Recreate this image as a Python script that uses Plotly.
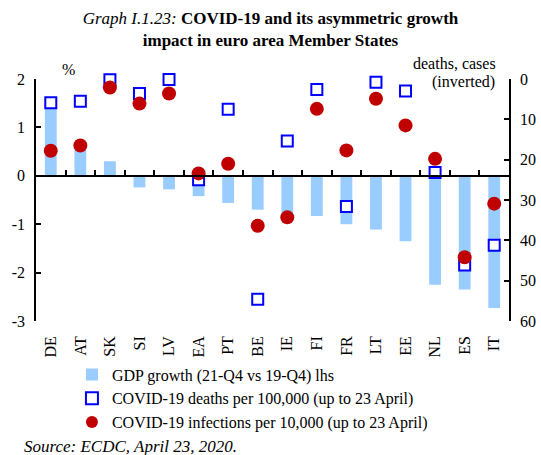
import plotly.graph_objects as go

countries = ["DE", "AT", "SK", "SI", "LV", "EA", "PT", "BE", "IE", "FI", "FR", "LT", "EE", "NL", "ES", "IT"]
gdp_growth = [1.45, 0.55, 0.30, -0.24, -0.28, -0.42, -0.56, -0.70, -0.82, -0.83, -1.00, -1.11, -1.35, -2.25, -2.35, -2.73]
deaths_per_100k = [5.9, 5.5, 0.2, 3.6, 0.1, 25.0, 7.5, 54.6, 15.4, 2.6, 31.6, 0.8, 3.0, 23.2, 46.1, 41.2]
infections_per_10k = [17.8, 16.5, 2.1, 6.1, 3.6, 23.4, 21.0, 36.4, 34.3, 7.4, 17.7, 4.9, 11.5, 19.8, 44.2, 30.9]
left_ticks = [-3, -2, -1, 0, 1, 2]
left_tick_labels = ["-3", "-2", "-1", "0", "1", "2"]
right_ticks = [0, 10, 20, 30, 40, 50, 60]

FONT = "Liberation Serif, Times New Roman, serif"

fig = go.Figure()
fig.add_trace(go.Bar(
    x=countries, y=gdp_growth, name="GDP growth (21-Q4 vs 19-Q4) lhs",
    marker=dict(color="#99CCFF", line=dict(width=0)), width=0.4, yaxis="y",
))
fig.add_trace(go.Scatter(
    x=countries, y=deaths_per_100k, name="COVID-19 deaths per 100,000 (up to 23 April)",
    mode="markers", yaxis="y2", cliponaxis=False,
    marker=dict(symbol="square", size=11, color="white", line=dict(color="#0000FF", width=2)),
))
fig.add_trace(go.Scatter(
    x=countries, y=infections_per_10k, name="COVID-19 infections per 10,000 (up to 23 April)",
    mode="markers", yaxis="y2", cliponaxis=False,
    marker=dict(symbol="circle", size=14, color="#C00000", line=dict(width=0)),
))
# dummy trace to activate zero-line category axis
fig.add_trace(go.Scatter(x=countries, y=[None]*len(countries), xaxis="x2", yaxis="y",
                         showlegend=False, hoverinfo="skip", mode="markers"))

fig.update_layout(
    width=541, height=455,
    margin=dict(l=36, r=32, t=79, b=134, autoexpand=False),
    paper_bgcolor="white", plot_bgcolor="white",
    font=dict(family=FONT, size=16, color="black"),
    title=dict(
        text="<i>Graph I.1.23:</i> <b>COVID-19 and its asymmetric growth</b><br><b>impact in euro area Member States</b>",
        x=0.5, xanchor="center", y=0.947, yanchor="top",
        font=dict(family=FONT, size=17, color="black"),
    ),
    showlegend=True,
    legend=dict(
        x=0.076, y=-0.151, xanchor="left", yanchor="top",
        font=dict(family=FONT, size=16), tracegroupgap=0,
        itemsizing="constant", itemwidth=30, bgcolor="rgba(0,0,0,0)",
    ),
    bargap=0.6,
    xaxis=dict(
        type="category", showline=False, ticks="", showgrid=False, zeroline=False,
        tickangle=-90, tickfont=dict(family=FONT, size=16), range=[-0.5, 15.5], automargin=False,
        ticklabelstandoff=11,
    ),
    xaxis2=dict(
        type="category", overlaying="x", matches="x", anchor="free", position=0.6,
        showline=True, linecolor="black", linewidth=1.5, ticks="inside", ticklen=5,
        tickcolor="black", tickwidth=1.5, tickson="boundaries", showticklabels=False, showgrid=False,
        automargin=False,
    ),
    yaxis=dict(
        range=[-3, 2], tickvals=left_ticks, ticktext=left_tick_labels, showline=True, linecolor="black",
        linewidth=1.5, ticks="inside", ticklen=5, tickcolor="black", tickwidth=1.5, showgrid=False,
        zeroline=False, tickfont=dict(family=FONT, size=16), ticklabelstandoff=6, automargin=False,
    ),
    yaxis2=dict(
        range=[60, 0], tickvals=right_ticks, overlaying="y", side="right",
        showline=True, linecolor="black", linewidth=1.5, ticks="inside", ticklen=5,
        tickcolor="black", tickwidth=1.5, showgrid=False, zeroline=False,
        tickfont=dict(family=FONT, size=16), ticklabelstandoff=6, automargin=False,
    ),
    annotations=[
        dict(text="%", x=0.0507, y=1.041, xref="paper", yref="paper", showarrow=False,
             yanchor="middle", font=dict(family=FONT, size=16)),
        dict(text="deaths, cases", x=0.977, y=1.066, xref="paper", yref="paper", showarrow=False,
             xanchor="right", yanchor="middle", font=dict(family=FONT, size=16)),
        dict(text="(inverted)", x=0.975, y=0.987, xref="paper", yref="paper", showarrow=False,
             xanchor="right", yanchor="middle", font=dict(family=FONT, size=16)),
        dict(text="<i>Source: ECDC, April 23, 2020.</i>", x=-0.03, y=-0.52, xref="paper", yref="paper",
             showarrow=False, xanchor="left", yanchor="middle", font=dict(family=FONT, size=17)),
    ],
)

fig.write_html("out.html", config={"displayModeBar": False},
               post_script="document.body.style.margin='0';document.body.style.overflow='hidden';")
